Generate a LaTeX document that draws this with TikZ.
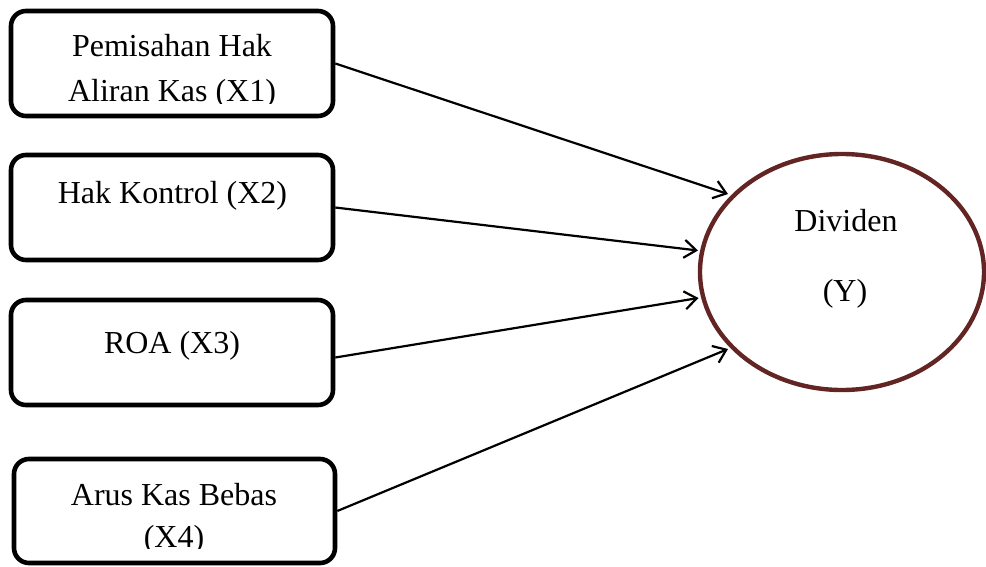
\documentclass[tikz,border=0pt]{standalone}
\usepackage{fontspec}
\setmainfont{Liberation Serif}
\usetikzlibrary{shapes.geometric,arrows.meta}
\definecolor{dred}{RGB}{99,37,36}
\begin{document}
\begin{tikzpicture}[x=1pt,y=-1pt,
  box/.style={draw,line width=4.6pt,rounded corners=15pt,minimum width=322pt,minimum height=105pt,inner sep=0pt},
  txt/.style={anchor=base,inner sep=0pt,font=\fontsize{32}{38}\selectfont},
  arr/.style={line width=2.2pt,-{Straight Barb[length=12pt,width=18pt]}}]
\useasboundingbox (0,0) rectangle (986,566);
% boxes
\node[box] (b1) at (172,63.5) {};
\node[box] (b2) at (172,207.5) {};
\node[box] (b3) at (172,352.5) {};
\node[box,minimum width=321pt,minimum height=104pt] (b4) at (174.5,511) {};
% ellipse
\node[ellipse,draw=dred,line width=4.4pt,minimum width=284pt,minimum height=236pt,inner sep=0pt] (dv) at (842,272) {};
% texts
\node[txt] (l1a) at (172,56.7) {Pemisahan Hak};
\begin{scope}
\clip (0,0) rectangle (986,103);
\node[txt] (l1b) at (172,101.6) {Aliran Kas (X1)};
\end{scope}
\node[txt] (l2) at (172.5,203) {Hak Kontrol (X2)};
\node[txt] (l3) at (172,353) {ROA (X3)};
\node[txt] (l4a) at (174,505) {Arus Kas Bebas};
\begin{scope}
\clip (0,0) rectangle (986,548.5);
\node[txt] (l4b) at (174,547) {(X4)};
\end{scope}
\node[txt] (ly1) at (846,231.7) {Dividen};
\node[txt] (ly2) at (845,301.7) {(Y)};
% arrow tips
\coordinate (t1) at (728,194);
\coordinate (t2) at (698,250.5);
\coordinate (t3) at (698.5,298);
\coordinate (t4) at (728,349);
\draw[arr] (b1.east) -- (t1);
\draw[arr] (b2.east) -- (t2);
\draw[arr] ([yshift=-5pt]b3.east) -- (t3);
\draw[arr] (b4.east) -- (t4);
\end{tikzpicture}
\end{document}
